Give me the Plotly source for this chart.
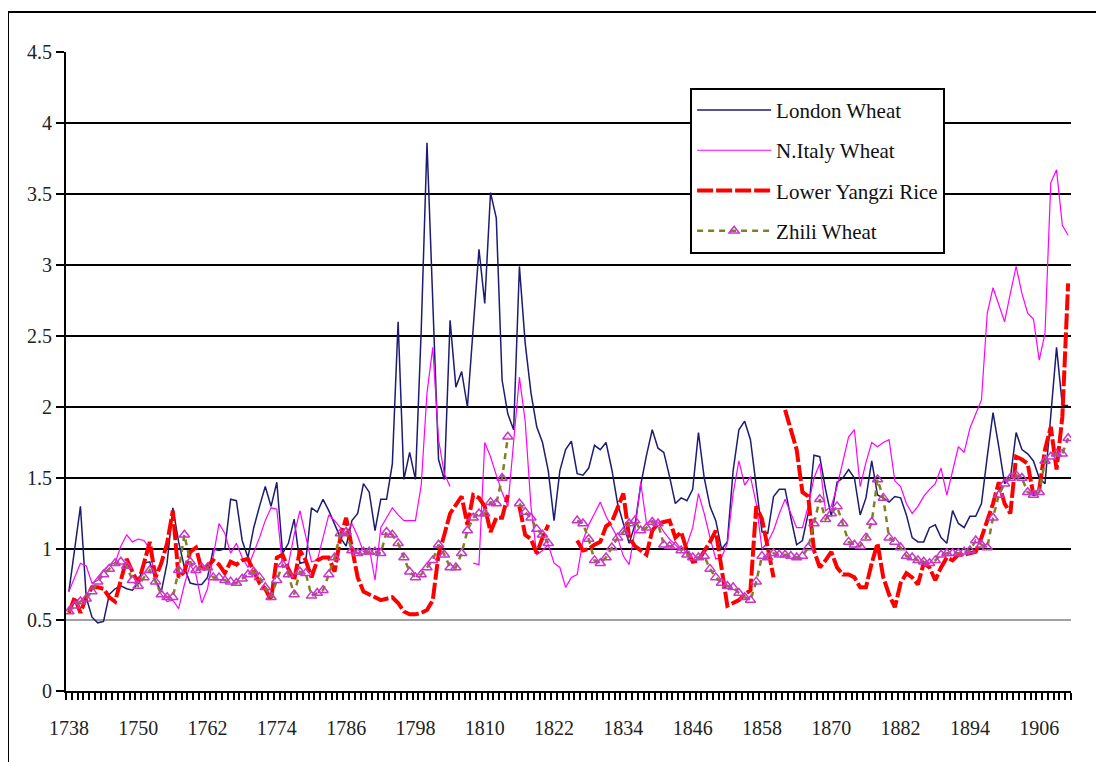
import plotly.graph_objects as go

years = list(range(1738, 1912))
label_years = [1738, 1750, 1762, 1774, 1786, 1798, 1810, 1822, 1834, 1846, 1858, 1870, 1882, 1894, 1906]

london_wheat = [
    0.70, 1.00, 1.30, 0.66, 0.52, 0.48, 0.49, 0.68, 0.72, 0.74, 0.72, 0.71,
    0.76, 0.90, 0.91, 0.78, 0.70, 0.90, 1.29, 1.05, 0.87, 0.76,
    0.75, 0.75, 0.80, 1.00, 0.99, 1.00, 1.35, 1.34, 1.06, 0.94,
    1.15, 1.30, 1.44, 1.30, 1.47, 0.97, 1.04, 1.21, 0.90, 0.91,
    1.29, 1.26, 1.35, 1.27, 1.17, 1.08, 1.02, 1.20, 1.25, 1.46,
    1.40, 1.13, 1.35, 1.35, 1.60, 2.60, 1.49, 1.68, 1.49, 2.54,
    3.86, 2.75, 1.63, 1.49, 2.61, 2.14, 2.25, 2.00, 2.55, 3.11,
    2.73, 3.51, 3.33, 2.19, 1.95, 1.84, 2.99, 2.45, 2.10, 1.86,
    1.75, 1.55, 1.20, 1.55, 1.70, 1.76, 1.53, 1.52, 1.57, 1.73,
    1.70, 1.75, 1.56, 1.32, 1.18, 1.04, 1.17, 1.45, 1.66, 1.84,
    1.71, 1.68, 1.51, 1.32, 1.36, 1.34, 1.42, 1.82, 1.50, 1.30,
    1.20, 1.00, 1.05, 1.55, 1.84, 1.90, 1.77, 1.45, 1.12, 1.11,
    1.37, 1.42, 1.42, 1.22, 1.03, 1.06, 1.25, 1.66, 1.65, 1.42,
    1.23, 1.47, 1.50, 1.56, 1.50, 1.24, 1.36, 1.62, 1.38, 1.36,
    1.33, 1.37, 1.36, 1.24, 1.08, 1.05, 1.05, 1.15, 1.17, 1.08,
    1.04, 1.27, 1.18, 1.15, 1.23, 1.23, 1.32, 1.65, 1.96, 1.72,
    1.46, 1.50, 1.82, 1.70, 1.67, 1.62, 1.50, 1.46, 1.96, 2.42,
    2.01, 2.01,
]

n_italy_wheat = [
    0.70, 0.80, 0.90, 0.88, 0.76, 0.78, 0.85, 0.89, 0.90, 1.02, 1.10, 1.05,
    1.07, 1.06, 1.00, 0.77, 0.68, 0.63, 0.64, 0.58, 0.75, 0.89,
    0.82, 0.62, 0.72, 0.95, 1.18, 1.11, 0.97, 1.04, 0.94, 0.87,
    0.97, 1.08, 1.20, 1.29, 1.28, 0.87, 0.89, 1.10, 1.27, 1.10,
    0.91, 0.92, 1.08, 1.24, 1.20, 1.15, 1.10, 1.18, 1.09, 0.98,
    1.01, 0.78, 1.15, 1.22, 1.29, 1.24, 1.20, 1.20, 1.20, 1.45,
    2.10, 2.42, 1.77, 1.53, 1.44, None, None, None, 0.90, 0.89,
    1.75, 1.65, 1.52, 1.40, 1.30, 1.75, 2.21, 1.90, 1.30, 0.96,
    0.99, 1.03, 0.90, 0.87, 0.73, 0.80, 0.82, 1.06, 1.17, 1.25,
    1.33, 1.23, 1.16, 1.08, 0.95, 0.89, 1.13, 1.47, 1.18, 1.20,
    1.19, 1.12, 1.07, 1.03, 0.99, 1.03, 1.15, 1.39, 1.25, 1.08,
    0.93, 0.94, 1.04, 1.39, 1.62, 1.45, 1.51, 1.32, 1.00, 1.05,
    1.13, 1.25, 1.35, 1.25, 1.15, 1.15, 1.30, 1.50, 1.60, 1.27,
    1.30, 1.44, 1.62, 1.79, 1.84, 1.44, 1.61, 1.75, 1.72, 1.75,
    1.77, 1.48, 1.44, 1.32, 1.25, 1.30, 1.37, 1.42, 1.46, 1.57,
    1.38, 1.56, 1.72, 1.68, 1.85, 1.95, 2.05, 2.66, 2.84, 2.72,
    2.60, 2.80, 2.99, 2.80, 2.66, 2.62, 2.33, 2.52, 3.58, 3.67,
    3.28, 3.21,
]

lower_yangzi_rice = [
    0.55, 0.66, 0.55, 0.66, 0.73, 0.73, 0.72, 0.66, 0.63, 0.78, 0.93, 0.84,
    0.76, 0.90, 1.05, 0.80, 0.90, 1.04, 1.27, 0.80, 0.84, 0.98,
    1.01, 0.85, 0.88, 0.92, 0.89, 0.83, 0.91, 0.89, 0.92, 0.93,
    0.85, 0.76, 0.72, 0.64, 0.94, 0.96, 0.86, 0.78, 0.99, 0.92,
    0.80, 0.92, 0.94, 0.94, 0.84, 1.08, 1.22, 1.01, 0.80, 0.70,
    0.68, 0.66, 0.64, 0.65, 0.66, 0.62, 0.56, 0.54, 0.54, 0.55,
    0.57, 0.64, 0.96, 1.10, 1.25, 1.31, 1.37, 1.17, 1.38, 1.36,
    1.30, 1.12, 1.22, 1.22, 1.38, None, 1.30, 1.10, 1.07, 0.97,
    1.08, 1.17, None, None, None, None, 1.06, 0.99, 1.00, 1.03,
    1.05, 1.16, 1.19, 1.30, 1.39, 1.08, 1.02, 0.99, 0.96, 1.13,
    1.18, 1.19, 1.20, 1.08, 1.12, 0.99, 0.91, 0.92, 0.98, 1.05,
    1.13, 0.84, 0.60, 0.62, 0.64, 0.68, 0.71, 1.30, 1.21, 1.01,
    0.80, None, 1.98, 1.85, 1.70, 1.40, 1.37, 0.99, 0.87, 0.92,
    0.98, 0.87, 0.82, 0.82, 0.80, 0.73, 0.73, 0.90, 1.04, 0.80,
    0.68, 0.59, 0.76, 0.83, 0.80, 0.75, 0.90, 0.87, 0.78, 0.87,
    0.94, 0.92, 0.96, 0.96, 0.97, 0.98, 1.08, 1.20, 1.32, 1.47,
    1.32, 1.25, 1.65, 1.63, 1.60, 1.38, 1.42, 1.70, 1.86, 1.56,
    1.93, 2.87,
]

zhili_wheat = [
    0.56, 0.60, 0.63, 0.65, 0.70, 0.77, 0.82, 0.86, 0.90, 0.91, 0.88, 0.78,
    0.74, 0.80, 0.85, 0.77, 0.68, 0.66, 0.66, 0.85, 1.10, 0.91,
    0.85, 0.87, 0.87, 0.80, 0.80, 0.78, 0.77, 0.76, 0.79, 0.82,
    0.84, 0.80, 0.73, 0.66, 0.78, 0.89, 0.82, 0.68, 0.84, 0.83,
    0.67, 0.69, 0.71, 0.82, 0.94, 1.11, 1.12, 0.99, 0.97, 0.98,
    0.98, 0.98, 0.97, 1.12, 1.10, 1.04, 0.94, 0.84, 0.80, 0.82,
    0.87, 0.92, 1.03, 0.96, 0.87, 0.87, 0.97, 1.13, 1.22, 1.25,
    1.25, 1.33, 1.32, 1.50, 1.79, None, 1.32, 1.26, 1.22, 1.14,
    1.10, 1.04, None, None, None, None, 1.20, 1.18, 1.07, 0.92,
    0.90, 0.94, 1.01, 1.08, 1.12, 1.18, 1.20, 1.13, 1.15, 1.19,
    1.18, 1.03, 1.02, 1.02, 0.99, 0.96, 0.94, 0.94, 0.95, 0.86,
    0.80, 0.76, 0.74, 0.73, 0.69, 0.66, 0.64, 0.77, 0.95, 0.94,
    0.97, 0.96, 0.96, 0.95, 0.94, 0.95, 1.01, 1.18, 1.35, 1.21,
    1.25, 1.30, 1.18, 1.05, 1.03, 1.02, 1.08, 1.19, 1.49, 1.36,
    1.08, 1.05, 1.01, 0.95, 0.94, 0.92, 0.91, 0.90, 0.92, 0.96,
    0.97, 0.97, 0.97, 0.98, 0.99, 1.06, 1.03, 1.01, 1.22, 1.38,
    1.46, 1.50, 1.52, 1.50, 1.40, 1.38, 1.40, 1.62, 1.65, 1.67,
    1.67, 1.78,
]

y_ticks = [0, 0.5, 1, 1.5, 2, 2.5, 3, 3.5, 4, 4.5]
y_ticktext = ["0", "0.5", "1", "1.5", "2", "2.5", "3", "3.5", "4", "4.5"]
grid_levels = [0.5, 1, 1.5, 2, 2.5, 3, 3.5, 4]

for s in (london_wheat, n_italy_wheat, lower_yangzi_rice, zhili_wheat):
    assert len(s) == len(years), len(s)

FONT = "Liberation Serif"

fig = go.Figure()
fig.add_trace(go.Scatter(
    x=years, y=london_wheat, name="London Wheat", mode="lines",
    line=dict(color="#1c1c72", width=1.5), legendgroup="a"))
fig.add_trace(go.Scatter(
    x=years, y=n_italy_wheat, name="N.Italy Wheat", mode="lines",
    line=dict(color="#ff00ff", width=1.2), legendgroup="b"))
fig.add_trace(go.Scatter(
    x=years, y=lower_yangzi_rice, name="Lower Yangzi Rice", mode="lines",
    line=dict(color="#ff0000", width=4, dash="16px,3px"), legendgroup="c"))
fig.add_trace(go.Scatter(
    x=years, y=zhili_wheat, name="Zhili Wheat", mode="lines+markers",
    line=dict(color="#808020", width=2.5, dash="6px,5px"),
    marker=dict(symbol="triangle-up-open", size=9, color="#cc33cc",
                line=dict(width=1.5, color="#cc33cc")),
    legendgroup="d"))

shapes = []
for g in grid_levels:
    shapes.append(dict(
        type="line", xref="paper", yref="y", x0=0, x1=1, y0=g, y1=g,
        line=dict(color="#000000" if g > 0.5 else "#444444",
                  width=2 if g > 0.5 else 1.2),
        layer="below"))
shapes.append(dict(
    type="rect", xref="paper", yref="paper",
    x0=-0.0577, x1=1.04, y0=-0.14, y1=1.0626,
    line=dict(color="black", width=2), fillcolor="rgba(0,0,0,0)", layer="above"))

fig.update_layout(
    width=1096, height=754,
    margin=dict(l=58, r=33, t=44, b=71),
    paper_bgcolor="white", plot_bgcolor="white",
    font=dict(family=FONT, size=20, color="#222222"),
    shapes=shapes,
    showlegend=True,
    legend=dict(
        x=0.621, y=0.944, xanchor="left", yanchor="top",
        bgcolor="white", bordercolor="black", borderwidth=2,
        font=dict(family=FONT, size=21, color="#111111"),
        traceorder="grouped", tracegroupgap=10, itemwidth=74,
    ),
    xaxis=dict(
        range=[1737.5, 1911.5],
        tickmode="array", tickvals=label_years,
        ticktext=[str(y) for y in label_years],
        ticks="", showgrid=False, zeroline=False,
        showline=True, linecolor="black", linewidth=2,
        ticklabelstandoff=18,
        minor=dict(tickmode="linear", tick0=1737.5, dtick=1, ticks="outside",
                   ticklen=7, tickwidth=1.5, tickcolor="black", showgrid=False),
        tickfont=dict(family=FONT, size=20, color="#222222"),
    ),
    yaxis=dict(
        range=[0, 4.5], tickmode="array", tickvals=y_ticks, ticktext=y_ticktext,
        ticks="outside", ticklen=8, tickwidth=2, tickcolor="black",
        showgrid=False, zeroline=False,
        showline=True, linecolor="black", linewidth=2,
        tickfont=dict(family=FONT, size=20, color="#222222"),
    ),
)

fig.write_html("out.html")
